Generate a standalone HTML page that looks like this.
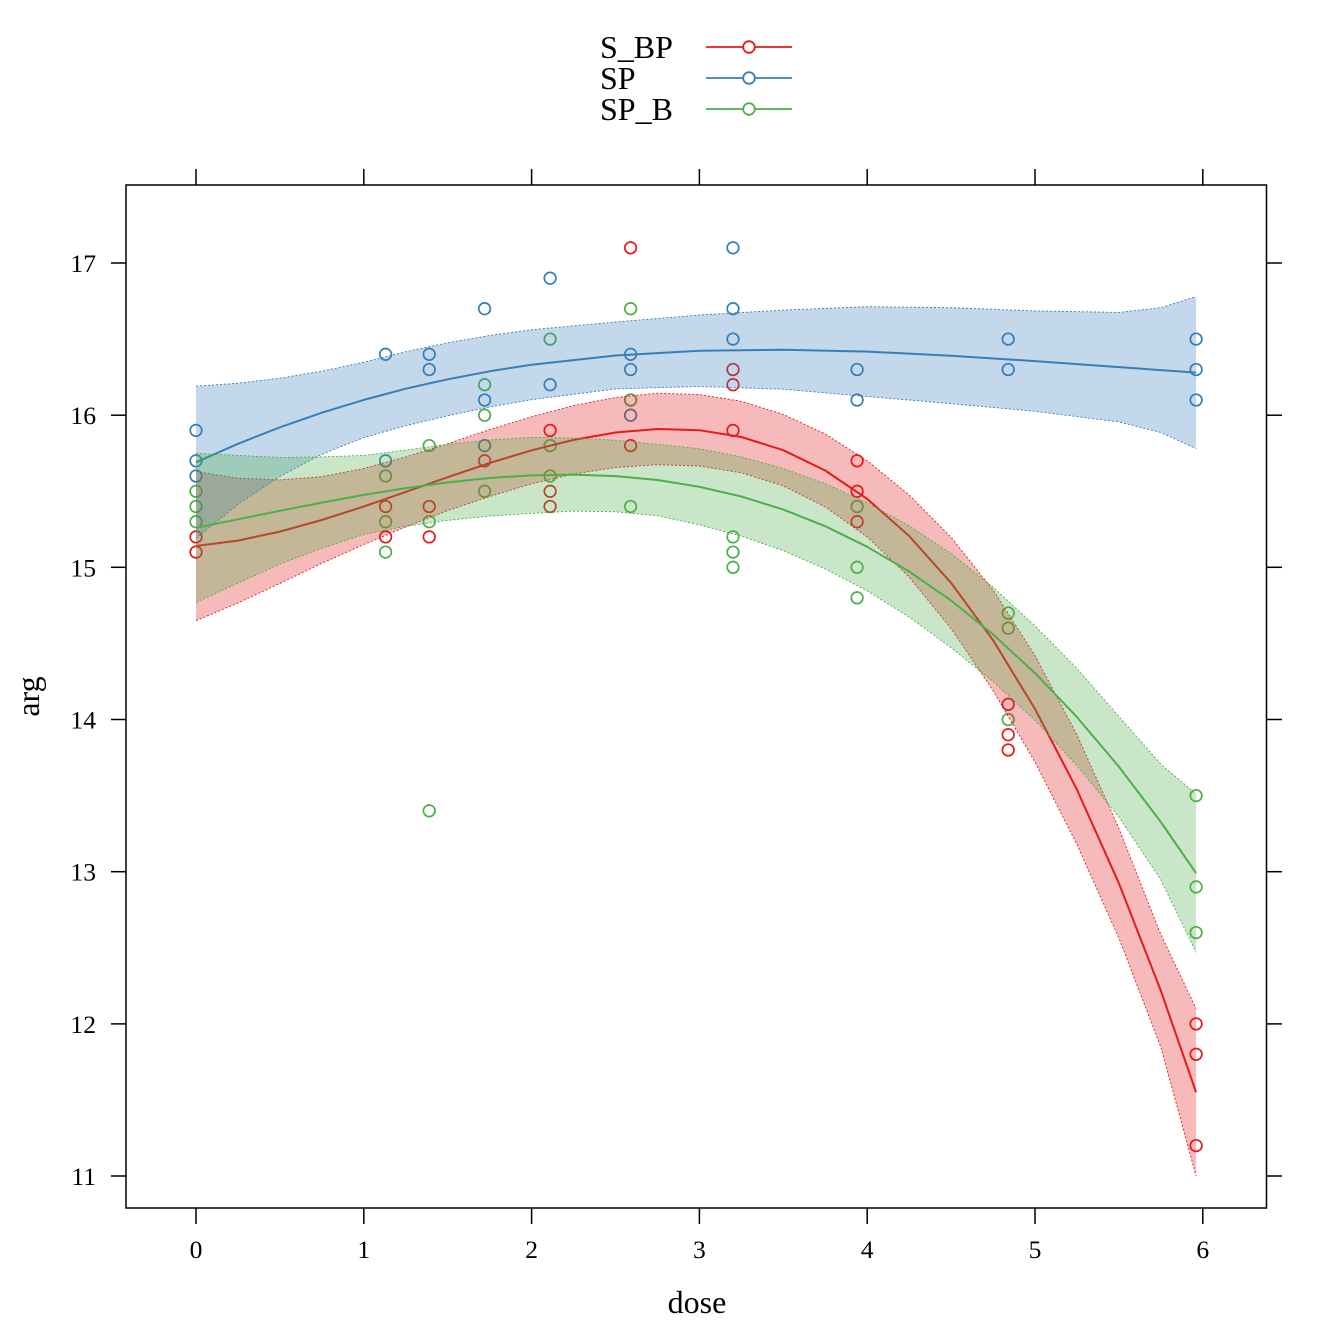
<!DOCTYPE html>
<html>
<head>
<meta charset="utf-8">
<style>
html,body{margin:0;padding:0;background:#fff;}
svg{display:block;}
text{font-family:"Liberation Serif","DejaVu Serif",serif;fill:#000;}
</style>
</head>
<body>
<svg width="1344" height="1344" viewBox="0 0 1344 1344" xmlns="http://www.w3.org/2000/svg">
<rect x="0" y="0" width="1344" height="1344" fill="#fff"/>

<!-- Legend -->
<g font-size="32">
<text x="600" y="58">S_BP</text>
<text x="600" y="89">SP</text>
<text x="600" y="120">SP_B</text>
</g>
<g stroke-width="1.8" fill="none">
<line x1="706" y1="47" x2="792" y2="47" stroke="#E41A1C"/>
<circle cx="749" cy="47" r="5.8" stroke="#E41A1C" fill="#fff"/>
<line x1="706" y1="78" x2="792" y2="78" stroke="#377EB8"/>
<circle cx="749" cy="78" r="5.8" stroke="#377EB8" fill="#fff"/>
<line x1="706" y1="109" x2="792" y2="109" stroke="#4DAF4A"/>
<circle cx="749" cy="109" r="5.8" stroke="#4DAF4A" fill="#fff"/>
</g>

<!-- Points (drawn first, bands overlay them) -->
<g fill="none" stroke-width="1.7">
<g stroke="#E41A1C">
<circle cx="196" cy="536.9" r="5.8"/><circle cx="196" cy="552.1" r="5.8"/>
<circle cx="385.6" cy="506.5" r="5.8"/><circle cx="385.6" cy="536.9" r="5.8"/>
<circle cx="429.2" cy="506.5" r="5.8"/><circle cx="429.2" cy="536.9" r="5.8"/>
<circle cx="484.6" cy="460.8" r="5.8"/>
<circle cx="550.1" cy="430.4" r="5.8"/><circle cx="550.1" cy="491.3" r="5.8"/><circle cx="550.1" cy="506.5" r="5.8"/>
<circle cx="630.6" cy="247.8" r="5.8"/><circle cx="630.6" cy="400.0" r="5.8"/><circle cx="630.6" cy="445.6" r="5.8"/>
<circle cx="733" cy="369.5" r="5.8"/><circle cx="733" cy="384.7" r="5.8"/><circle cx="733" cy="430.4" r="5.8"/>
<circle cx="857.1" cy="460.8" r="5.8"/><circle cx="857.1" cy="491.3" r="5.8"/><circle cx="857.1" cy="521.7" r="5.8"/>
<circle cx="1008.2" cy="704.3" r="5.8"/><circle cx="1008.2" cy="734.7" r="5.8"/><circle cx="1008.2" cy="750.0" r="5.8"/>
<circle cx="1196.1" cy="1023.9" r="5.8"/><circle cx="1196.1" cy="1054.3" r="5.8"/><circle cx="1196.1" cy="1145.6" r="5.8"/>
</g>
<g stroke="#377EB8">
<circle cx="196" cy="430.4" r="5.8"/><circle cx="196" cy="460.8" r="5.8"/><circle cx="196" cy="476.0" r="5.8"/>
<circle cx="385.6" cy="354.3" r="5.8"/><circle cx="385.6" cy="460.8" r="5.8"/>
<circle cx="429.2" cy="354.3" r="5.8"/><circle cx="429.2" cy="369.5" r="5.8"/>
<circle cx="484.6" cy="308.7" r="5.8"/><circle cx="484.6" cy="400.0" r="5.8"/><circle cx="484.6" cy="445.6" r="5.8"/>
<circle cx="550.1" cy="278.2" r="5.8"/><circle cx="550.1" cy="384.7" r="5.8"/>
<circle cx="630.6" cy="354.3" r="5.8"/><circle cx="630.6" cy="369.5" r="5.8"/><circle cx="630.6" cy="415.2" r="5.8"/>
<circle cx="733" cy="247.8" r="5.8"/><circle cx="733" cy="308.7" r="5.8"/><circle cx="733" cy="339.1" r="5.8"/>
<circle cx="857.1" cy="369.5" r="5.8"/><circle cx="857.1" cy="400.0" r="5.8"/>
<circle cx="1008.2" cy="339.1" r="5.8"/><circle cx="1008.2" cy="369.5" r="5.8"/>
<circle cx="1196.1" cy="339.1" r="5.8"/><circle cx="1196.1" cy="369.5" r="5.8"/><circle cx="1196.1" cy="400.0" r="5.8"/>
</g>
<g stroke="#4DAF4A">
<circle cx="196" cy="491.3" r="5.8"/><circle cx="196" cy="506.5" r="5.8"/><circle cx="196" cy="521.7" r="5.8"/>
<circle cx="385.6" cy="476.0" r="5.8"/><circle cx="385.6" cy="521.7" r="5.8"/><circle cx="385.6" cy="552.1" r="5.8"/>
<circle cx="429.2" cy="445.6" r="5.8"/><circle cx="429.2" cy="521.7" r="5.8"/><circle cx="429.2" cy="810.8" r="5.8"/>
<circle cx="484.6" cy="384.7" r="5.8"/><circle cx="484.6" cy="415.2" r="5.8"/><circle cx="484.6" cy="491.3" r="5.8"/>
<circle cx="550.1" cy="339.1" r="5.8"/><circle cx="550.1" cy="445.6" r="5.8"/><circle cx="550.1" cy="476.0" r="5.8"/>
<circle cx="630.6" cy="308.7" r="5.8"/><circle cx="630.6" cy="400.0" r="5.8"/><circle cx="630.6" cy="506.5" r="5.8"/>
<circle cx="733" cy="536.9" r="5.8"/><circle cx="733" cy="552.1" r="5.8"/><circle cx="733" cy="567.3" r="5.8"/>
<circle cx="857.1" cy="506.5" r="5.8"/><circle cx="857.1" cy="567.3" r="5.8"/><circle cx="857.1" cy="597.8" r="5.8"/>
<circle cx="1008.2" cy="613.0" r="5.8"/><circle cx="1008.2" cy="628.2" r="5.8"/><circle cx="1008.2" cy="719.5" r="5.8"/>
<circle cx="1196.1" cy="795.6" r="5.8"/><circle cx="1196.1" cy="886.9" r="5.8"/><circle cx="1196.1" cy="932.6" r="5.8"/>
</g>
</g>

<!-- S_BP band + line -->
<polygon fill="#E41A1C" fill-opacity="0.3" stroke="none" points="196,471.5 237.95,478.2 279.9,479.9 321.85,476.6 363.8,468.4 405.75,456.9 447.7,443.7 489.65,429.6 531.6,416.8 573.55,405.6 615.5,397.5 657.45,393.2 699.4,394.5 741.35,401.3 783.3,414.4 825.25,434.0 867.2,460.8 909.15,495.0 951.1,537.3 993.05,590.0 1035,655.6 1076.95,734.8 1118.9,828.5 1160.85,934.5 1196.1,1008.6 1196.1,1176.0 1160.85,1047.1 1118.9,938.1 1076.95,844.4 1035,762.1 993.05,690.5 951.1,628.6 909.15,577.1 867.2,536.9 825.25,507.0 783.3,485.9 741.35,472.8 699.4,466.0 657.45,464.8 615.5,467.5 573.55,474.1 531.6,483.8 489.65,496.5 447.7,510.6 405.75,526.9 363.8,544.5 321.85,563.3 279.9,583.4 237.95,603.0 196,620.6"/>
<g fill="none" stroke="#E41A1C" stroke-width="0.9" stroke-dasharray="2 2">
<polyline points="196,471.5 237.95,478.2 279.9,479.9 321.85,476.6 363.8,468.4 405.75,456.9 447.7,443.7 489.65,429.6 531.6,416.8 573.55,405.6 615.5,397.5 657.45,393.2 699.4,394.5 741.35,401.3 783.3,414.4 825.25,434.0 867.2,460.8 909.15,495.0 951.1,537.3 993.05,590.0 1035,655.6 1076.95,734.8 1118.9,828.5 1160.85,934.5 1196.1,1008.6"/>
<polyline points="196,620.6 237.95,603.0 279.9,583.4 321.85,563.3 363.8,544.5 405.75,526.9 447.7,510.6 489.65,496.5 531.6,483.8 573.55,474.1 615.5,467.5 657.45,464.8 699.4,466.0 741.35,472.8 783.3,485.9 825.25,507.0 867.2,536.9 909.15,577.1 951.1,628.6 993.05,690.5 1035,762.1 1076.95,844.4 1118.9,938.1 1160.85,1047.1 1196.1,1176.0"/>
</g>
<polyline fill="none" stroke="#E41A1C" stroke-width="2" stroke-linejoin="round" points="196,546.0 237.95,540.6 279.9,531.6 321.85,520.0 363.8,506.5 405.75,491.9 447.7,477.2 489.65,463.0 531.6,450.3 573.55,439.9 615.5,432.5 657.45,429.0 699.4,430.2 741.35,437.0 783.3,450.2 825.25,470.5 867.2,498.9 909.15,536.0 951.1,582.9 993.05,640.2 1035,708.9 1076.95,789.6 1118.9,883.3 1160.85,990.8 1196.1,1092.3"/>

<!-- SP band + line -->
<polygon fill="#377EB8" fill-opacity="0.3" stroke="none" points="196,386.2 237.95,383.2 279.9,378.2 321.85,371.2 363.8,362.2 405.75,351.7 447.7,342.8 489.65,335.5 531.6,329.7 615.5,322.0 699.4,315.0 783.3,310.1 867.2,306.7 951.1,307.7 1035,310.9 1118.9,312.4 1160.85,307.7 1196.1,296.5 1196.1,448.6 1160.85,432.5 1118.9,421.9 1035,411.3 951.1,403.6 867.2,396.5 783.3,389.2 699.4,386.5 615.5,388.9 531.6,399.7 489.65,407.0 447.7,415.8 405.75,425.7 363.8,437.6 321.85,454.2 279.9,476.4 237.95,504.4 196,538.4"/>
<g fill="none" stroke="#377EB8" stroke-width="0.9" stroke-dasharray="2 2">
<polyline points="196,386.2 237.95,383.2 279.9,378.2 321.85,371.2 363.8,362.2 405.75,351.7 447.7,342.8 489.65,335.5 531.6,329.7 615.5,322.0 699.4,315.0 783.3,310.1 867.2,306.7 951.1,307.7 1035,310.9 1118.9,312.4 1160.85,307.7 1196.1,296.5"/>
<polyline points="196,538.4 237.95,504.4 279.9,476.4 321.85,454.2 363.8,437.6 405.75,425.7 447.7,415.8 489.65,407.0 531.6,399.7 615.5,388.9 699.4,386.5 783.3,389.2 867.2,396.5 951.1,403.6 1035,411.3 1118.9,421.9 1160.85,432.5 1196.1,448.6"/>
</g>
<polyline fill="none" stroke="#377EB8" stroke-width="2" stroke-linejoin="round" points="196,462.3 237.95,443.8 279.9,427.3 321.85,412.7 363.8,399.9 405.75,388.7 447.7,379.3 489.65,371.3 531.6,364.7 615.5,355.5 699.4,350.7 783.3,349.7 867.2,351.6 951.1,355.7 1035,361.1 1118.9,367.1 1160.85,370.1 1196.1,372.6"/>

<!-- SP_B band + line -->
<polygon fill="#4DAF4A" fill-opacity="0.3" stroke="none" points="196,453.2 237.95,455.4 279.9,457.5 321.85,456.9 363.8,455.4 405.75,450.1 447.7,444.3 489.65,440.0 531.6,437.3 573.55,438.1 615.5,440.3 657.45,444.3 699.4,448.7 741.35,456.9 783.3,468.5 825.25,483.6 867.2,502.7 909.15,525.8 951.1,553.4 993.05,587.2 1035,625.9 1076.95,668.5 1118.9,716.5 1160.85,764.2 1196.1,794.1 1196.1,952.3 1160.85,879.9 1118.9,816.9 1076.95,765.8 1035,720.3 993.05,681.5 951.1,647.7 909.15,617.1 867.2,590.9 825.25,568.9 783.3,550.7 741.35,536.1 699.4,524.8 657.45,515.8 615.5,511.8 573.55,511.1 531.6,513.4 489.65,516.1 447.7,520.4 405.75,526.2 363.8,534.5 321.85,548.2 279.9,564.1 237.95,583.2 196,602.3"/>
<g fill="none" stroke="#4DAF4A" stroke-width="0.9" stroke-dasharray="2 2">
<polyline points="196,453.2 237.95,455.4 279.9,457.5 321.85,456.9 363.8,455.4 405.75,450.1 447.7,444.3 489.65,440.0 531.6,437.3 573.55,438.1 615.5,440.3 657.45,444.3 699.4,448.7 741.35,456.9 783.3,468.5 825.25,483.6 867.2,502.7 909.15,525.8 951.1,553.4 993.05,587.2 1035,625.9 1076.95,668.5 1118.9,716.5 1160.85,764.2 1196.1,794.1"/>
<polyline points="196,602.3 237.95,583.2 279.9,564.1 321.85,548.2 363.8,534.5 405.75,526.2 447.7,520.4 489.65,516.1 531.6,513.4 573.55,511.1 615.5,511.8 657.45,515.8 699.4,524.8 741.35,536.1 783.3,550.7 825.25,568.9 867.2,590.9 909.15,617.1 951.1,647.7 993.05,681.5 1035,720.3 1076.95,765.8 1118.9,816.9 1160.85,879.9 1196.1,952.3"/>
</g>
<polyline fill="none" stroke="#4DAF4A" stroke-width="2" stroke-linejoin="round" points="196,527.8 237.95,519.3 279.9,510.8 321.85,502.6 363.8,494.9 405.75,488.1 447.7,482.4 489.65,478.0 531.6,475.4 573.55,474.6 615.5,476.1 657.45,480.0 699.4,486.8 741.35,496.5 783.3,509.6 825.25,526.2 867.2,546.8 909.15,571.5 951.1,600.6 993.05,634.4 1035,673.1 1076.95,717.1 1118.9,766.7 1160.85,822.0 1196.1,873.2"/>

<!-- Axes box -->
<rect x="126" y="185" width="1140.5" height="1023" fill="none" stroke="#000" stroke-width="1.5"/>
<g stroke="#000" stroke-width="1.5">
<!-- bottom ticks -->
<line x1="196" y1="1208" x2="196" y2="1224"/>
<line x1="363.8" y1="1208" x2="363.8" y2="1224"/>
<line x1="531.6" y1="1208" x2="531.6" y2="1224"/>
<line x1="699.4" y1="1208" x2="699.4" y2="1224"/>
<line x1="867.2" y1="1208" x2="867.2" y2="1224"/>
<line x1="1035" y1="1208" x2="1035" y2="1224"/>
<line x1="1202.8" y1="1208" x2="1202.8" y2="1224"/>
<!-- top ticks -->
<line x1="196" y1="185" x2="196" y2="169"/>
<line x1="363.8" y1="185" x2="363.8" y2="169"/>
<line x1="531.6" y1="185" x2="531.6" y2="169"/>
<line x1="699.4" y1="185" x2="699.4" y2="169"/>
<line x1="867.2" y1="185" x2="867.2" y2="169"/>
<line x1="1035" y1="185" x2="1035" y2="169"/>
<line x1="1202.8" y1="185" x2="1202.8" y2="169"/>
<!-- left ticks -->
<line x1="126" y1="263" x2="111" y2="263"/>
<line x1="126" y1="415.2" x2="111" y2="415.2"/>
<line x1="126" y1="567.3" x2="111" y2="567.3"/>
<line x1="126" y1="719.5" x2="111" y2="719.5"/>
<line x1="126" y1="871.7" x2="111" y2="871.7"/>
<line x1="126" y1="1023.9" x2="111" y2="1023.9"/>
<line x1="126" y1="1176" x2="111" y2="1176"/>
<!-- right ticks -->
<line x1="1266.5" y1="263" x2="1282" y2="263"/>
<line x1="1266.5" y1="415.2" x2="1282" y2="415.2"/>
<line x1="1266.5" y1="567.3" x2="1282" y2="567.3"/>
<line x1="1266.5" y1="719.5" x2="1282" y2="719.5"/>
<line x1="1266.5" y1="871.7" x2="1282" y2="871.7"/>
<line x1="1266.5" y1="1023.9" x2="1282" y2="1023.9"/>
<line x1="1266.5" y1="1176" x2="1282" y2="1176"/>
</g>

<!-- Tick labels -->
<g font-size="25.6" text-anchor="middle">
<text x="196" y="1258">0</text>
<text x="363.8" y="1258">1</text>
<text x="531.6" y="1258">2</text>
<text x="699.4" y="1258">3</text>
<text x="867.2" y="1258">4</text>
<text x="1035" y="1258">5</text>
<text x="1202.8" y="1258">6</text>
</g>
<g font-size="25.6" text-anchor="end">
<text x="96" y="272">17</text>
<text x="96" y="424.2">16</text>
<text x="96" y="576.3">15</text>
<text x="96" y="728.5">14</text>
<text x="96" y="880.7">13</text>
<text x="96" y="1032.9">12</text>
<text x="96" y="1185">11</text>
</g>

<!-- Axis labels -->
<text x="697" y="1313" font-size="32" text-anchor="middle">dose</text>
<text transform="translate(39,696.5) rotate(-90)" font-size="32" text-anchor="middle">arg</text>
</svg>
</body>
</html>
